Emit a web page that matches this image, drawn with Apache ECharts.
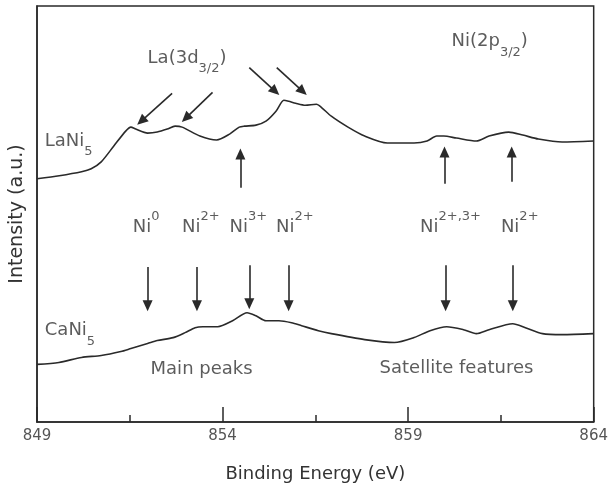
<!DOCTYPE html>
<html>
<head>
<meta charset="utf-8">
<script src="https://cdn.jsdelivr.net/npm/echarts@6/dist/echarts.min.js"></script>
<style>html,body{margin:0;padding:0;background:#fff}#c{width:611px;height:488px}</style>
</head>
<body>
<div id="c"></div>
<script>
// Binding energy (eV) / intensity (a.u.) pairs
const lani5 = [
  [849.00,245],[849.60,248],[850.20,252],[850.46,255],[850.73,262],[851.07,278],[851.39,293],[851.53,297],
  [851.66,295],[851.98,291],[852.24,292],[852.51,295],[852.72,298],[852.91,297],[853.39,288],
  [853.84,284],[854.19,290],[854.45,297],[854.59,298],[854.90,299],[855.17,303],[855.44,313],
  [855.65,324],[855.78,323],[855.97,321],[856.23,319],[856.53,320],[856.66,317],[856.93,308],
  [857.38,297],[857.83,288],[858.44,281],[859.16,281],[859.51,283],[859.77,288],[859.96,288],
  [860.30,286],[860.84,283],[861.18,288],[861.71,292],[862.09,289],[862.51,285],[863.15,282],[864.00,283]
];
const cani5 = [
  [849.00,58],[849.59,60],[850.20,65],[850.73,67],[851.26,71],[851.53,74],[851.98,79],[852.24,82],
  [852.67,85],[852.99,90],[853.26,95],[853.47,96],[853.87,96],[854.27,102],[854.66,110],[854.90,107],
  [855.17,102],[855.52,102],[855.86,100],[856.13,97],[856.58,92],[856.93,89],[857.83,83],[858.63,80],
  [859.16,85],[859.59,92],[860.04,96],[860.49,93],[860.84,89],[861.18,93],[861.82,99],[862.16,95],
  [862.62,89],[863.15,88],[864.00,89]
];
// arrows: [x1, y1, x2, y2] (tail -> head)
const laArrows = [
  [852.64,331,851.81,303],[853.73,332,853.01,306],
  [854.72,357,855.42,333],[855.46,357,856.16,333]
];
const upArrows = [
  [854.48,236,854.48,270],[859.98,240,859.98,272],[861.79,242,861.79,272]
];
const downArrows = [
  [851.98,156,851.98,117],[853.31,156,853.31,117],[854.72,158,854.72,119],
  [855.78,158,855.78,117],[860.01,158,860.01,117],[861.82,158,861.82,117]
];
// text labels: [x (left edge), y (centre), rich text]
const labels = [
  [851.98,366,'{m|La(3d}{b|3/2}{m|)}'],
  [860.17,383,'{m|Ni(2p}{b|3/2}{m|)}'],
  [849.21,283,'{m|LaNi}{b|5}'],
  [849.21,92,'{m|CaNi}{b|5}'],
  [851.58,196,'{m|Ni}{p|0}'],
  [852.91,196,'{m|Ni}{p|2+}'],
  [854.19,196,'{m|Ni}{p|3+}'],
  [855.44,196,'{m|Ni}{p|2+}'],
  [859.32,196,'{m|Ni}{p|2+,3+}'],
  [861.50,196,'{m|Ni}{p|2+}'],
  [852.06,53,'{m|Main peaks}'],
  [858.23,54,'{m|Satellite features}']
];
const xTicks = {min:849, max:864, step:5};

const FF = 'DejaVu Sans';
const TXT = '#333';
const LINE = '#2a2a2a';
function arrowData(arr){
  return arr.map(a => [{coord:[a[0],a[1]]},{coord:[a[2],a[3]]}]);
}
const chart = echarts.init(document.getElementById('c'), null, {renderer:'canvas'});
chart.setOption({
  animation:false,
  backgroundColor:'#fff',
  grid:{left:35,right:13,top:6,bottom:63,show:true,borderColor:LINE,borderWidth:1.5},
  xAxis:{
    type:'value',min:xTicks.min,max:xTicks.max,interval:xTicks.step,
    axisLine:{lineStyle:{color:LINE,width:1.5}},
    axisTick:{inside:true,length:15,lineStyle:{color:LINE,width:1.5}},
    minorTick:{show:true,splitNumber:2,length:7,lineStyle:{color:LINE,width:1.5}},
    splitLine:{show:false},minorSplitLine:{show:false},
    axisLabel:{fontFamily:FF,fontSize:15,color:'#555',margin:7},
    name:'Binding Energy (eV)',nameLocation:'middle',nameGap:43,
    nameTextStyle:{fontFamily:FF,fontSize:18,color:TXT}
  },
  yAxis:{
    type:'value',min:0,max:419,
    axisLine:{show:true,lineStyle:{color:LINE,width:1.5}},
    axisTick:{show:false},axisLabel:{show:false},splitLine:{show:false},
    name:'Intensity (a.u.)',nameLocation:'middle',nameGap:10,
    nameTextStyle:{fontFamily:FF,fontSize:19,color:TXT}
  },
  series:[
    {type:'line',name:'LaNi5',data:lani5,showSymbol:false,smooth:0.25,
     lineStyle:{color:LINE,width:1.6},silent:true,
     markLine:{silent:true,symbol:['none','triangle'],symbolSize:[10,11],label:{show:false},
       lineStyle:{color:LINE,width:1.6,type:'solid'},emphasis:{disabled:true},
       data:arrowData(laArrows.concat(upArrows))}},
    {type:'line',name:'CaNi5',data:cani5,showSymbol:false,smooth:0.25,
     lineStyle:{color:LINE,width:1.6},silent:true,
     markLine:{silent:true,symbol:['none','triangle'],symbolSize:[10,11],label:{show:false},
       lineStyle:{color:LINE,width:1.6,type:'solid'},emphasis:{disabled:true},
       data:arrowData(downArrows)}},
    {type:'scatter',name:'labels',symbolSize:0,silent:true,
     data:labels.map(l => ({value:[l[0],l[1]],txt:l[2]})),
     label:{show:true,position:'right',distance:0,
       formatter:p => p.data.txt,
       rich:{
         m:{fontFamily:FF,fontSize:18,color:TXT,lineHeight:34,verticalAlign:'middle'},
         b:{fontFamily:FF,fontSize:13,color:TXT,lineHeight:14,verticalAlign:'bottom'},
         p:{fontFamily:FF,fontSize:13,color:TXT,lineHeight:25,verticalAlign:'top'}
       }}}
  ]
});
</script>
</body>
</html>
